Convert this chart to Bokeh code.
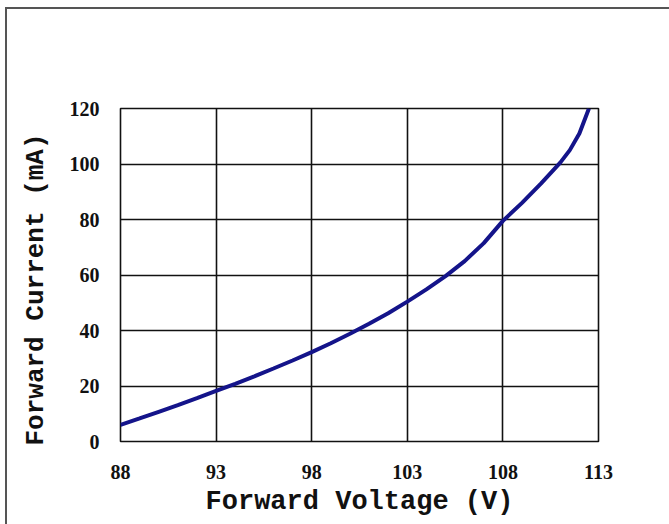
from bokeh.plotting import figure
from bokeh.models import FixedTicker, Title
from bokeh.embed import file_html
from bokeh.resources import INLINE

voltage = [88, 89, 90, 91, 92, 93, 94, 95, 96, 97, 98, 99, 100, 101, 102, 103,
           104, 105, 106, 107, 108, 109, 110, 111, 111.5, 112, 112.5]
current = [6.0, 8.3, 10.7, 13.1, 15.6, 18.2, 20.8, 23.5, 26.3, 29.2, 32.2, 35.4,
           38.8, 42.4, 46.2, 50.4, 54.8, 59.6, 65.0, 71.5, 79.5, 86.0, 93.0, 100.5,
           105.0, 111.0, 120.0]
x_ticks = [88, 93, 98, 103, 108, 113]
y_ticks = [0, 20, 40, 60, 80, 100, 120]

p = figure(width=669, height=524, output_backend="svg", toolbar_location=None,
           x_range=(88, 113), y_range=(0, 120),
           min_border_left=120, min_border_right=71, min_border_top=108,
           min_border_bottom=83)
# outer page border: only left and top edges visible in the reference
p.styles = {"background-color": "white",
            "box-shadow": "inset 5px 7px 0 0 white, inset 7px 9px 0 0 #555555"}

p.line(voltage, current, line_color="#14148a", line_width=4)

for ax in (p.xaxis[0], p.yaxis[0]):
    ax.axis_line_color = None
    ax.major_tick_line_color = None
    ax.minor_tick_line_color = None
    ax.major_label_text_font = "Liberation Serif"
    ax.major_label_text_font_style = "bold"
    ax.major_label_text_font_size = "20px"
    ax.major_label_text_color = "#111111"

p.xaxis.ticker = FixedTicker(ticks=x_ticks)
p.yaxis.ticker = FixedTicker(ticks=y_ticks)
p.xaxis.major_label_standoff = 17
p.yaxis.major_label_standoff = 15

p.xaxis.axis_label = "Forward Voltage (V)"
p.xaxis.axis_label_text_font = "Liberation Mono"
p.xaxis.axis_label_text_font_style = "bold"
p.xaxis.axis_label_text_font_size = "27px"
p.xaxis.axis_label_text_color = "#111111"
p.xaxis.axis_label_standoff = 5

ytitle = Title(text="Forward Current (mA)", align="left", offset=-4,
               text_font="Liberation Mono", text_font_style="bold",
               text_font_size="26px", text_color="#111111", standoff=32)
p.add_layout(ytitle, "left")

p.xgrid.ticker = FixedTicker(ticks=x_ticks)
p.ygrid.ticker = FixedTicker(ticks=y_ticks)
p.grid.grid_line_color = "#111111"
p.grid.grid_line_width = 1.6
p.outline_line_color = "#111111"
p.outline_line_width = 1.6
p.background_fill_color = "white"
p.border_fill_color = None

open("out.html", "w").write(file_html(p, INLINE))
